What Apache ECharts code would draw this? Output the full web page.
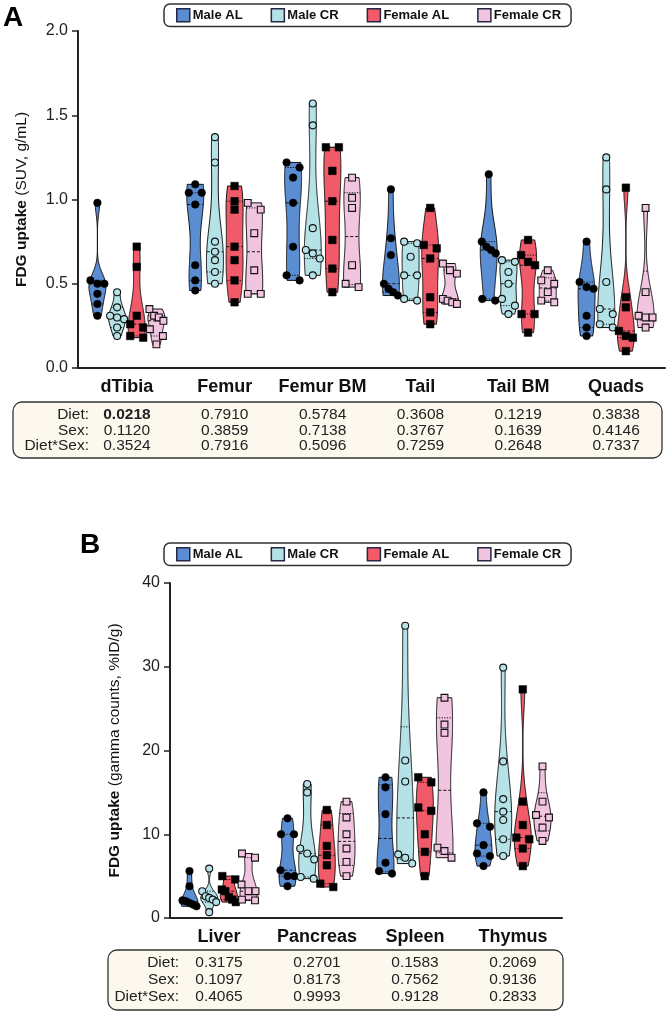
<!DOCTYPE html>
<html>
<head>
<meta charset="utf-8">
<script src="https://cdn.jsdelivr.net/npm/echarts@6/dist/echarts.min.js"></script>
<style>
  html, body { margin: 0; padding: 0; background: #fff; }
  #chart { width: 666px; height: 1014px; }
</style>
</head>
<body>
<div id="chart"></div>
<script>
// groups and colours
const groupNames = ['Male AL', 'Male CR', 'Female AL', 'Female CR'];
const groupColors = ['#5b8dd3', '#b4e2e7', '#f15b69', '#f1c4e0'];

// panel A - bone sites, SUV g/mL
const boneCats = ['dTibia', 'Femur', 'Femur BM', 'Tail', 'Tail BM', 'Quads'];
const boneMaleAL = [
  [0.98, 0.52, 0.50, 0.50, 0.44, 0.38, 0.31],
  [1.09, 1.04, 1.04, 0.97, 0.61, 0.52, 0.46],
  [1.22, 1.19, 1.13, 0.98, 0.72, 0.55, 0.52],
  [1.06, 0.77, 0.67, 0.50, 0.47, 0.45, 0.43],
  [1.15, 0.75, 0.72, 0.70, 0.68, 0.41, 0.40],
  [0.75, 0.51, 0.48, 0.47, 0.31, 0.24, 0.19]
];
const boneMaleCR = [
  [0.45, 0.36, 0.31, 0.30, 0.29, 0.24, 0.19],
  [1.37, 1.22, 0.75, 0.69, 0.64, 0.57, 0.50],
  [1.57, 1.44, 0.83, 0.70, 0.68, 0.65, 0.55],
  [0.75, 0.74, 0.66, 0.55, 0.55, 0.41, 0.40],
  [0.64, 0.63, 0.57, 0.50, 0.41, 0.37, 0.32],
  [1.25, 1.06, 0.51, 0.35, 0.32, 0.26, 0.24]
];
const boneFemaleAL = [
  [0.72, 0.60, 0.31, 0.26, 0.24, 0.19, 0.18],
  [1.08, 0.99, 0.94, 0.72, 0.64, 0.52, 0.39],
  [1.31, 1.31, 1.17, 0.99, 0.76, 0.59, 0.45],
  [0.95, 0.73, 0.71, 0.65, 0.42, 0.33, 0.26],
  [0.76, 0.67, 0.63, 0.61, 0.32, 0.32, 0.21],
  [1.07, 0.42, 0.36, 0.22, 0.19, 0.18, 0.10]
];
const boneFemaleCR = [
  [0.35, 0.31, 0.30, 0.28, 0.23, 0.19, 0.14],
  [0.98, 0.94, 0.80, 0.58, 0.44, 0.44],
  [1.13, 1.01, 0.95, 0.61, 0.50, 0.48],
  [0.62, 0.58, 0.56, 0.41, 0.40, 0.39, 0.38],
  [0.58, 0.52, 0.50, 0.45, 0.40, 0.39],
  [0.95, 0.45, 0.31, 0.30, 0.30, 0.24]
];
const boneDietP = ['0.0218', '0.7910', '0.5784', '0.3608', '0.1219', '0.3838'];
const boneSexP = ['0.1120', '0.3859', '0.7138', '0.3767', '0.1639', '0.4146'];
const boneDietSexP = ['0.3524', '0.7916', '0.5096', '0.7259', '0.2648', '0.7337'];

// panel B - organs, gamma counts %ID/g
const organCats = ['Liver', 'Pancreas', 'Spleen', 'Thymus'];
const organMaleAL = [
  [5.6, 3.8, 2.1, 2.0, 1.8, 1.6, 1.4],
  [11.9, 10.0, 10.0, 5.7, 5.0, 5.0, 3.8],
  [16.8, 15.6, 12.4, 6.6, 5.6, 5.3],
  [15.0, 11.3, 10.9, 8.7, 7.7, 7.4, 6.2]
];
const organMaleCR = [
  [5.9, 3.2, 2.6, 2.4, 2.2, 1.9, 0.7],
  [16.0, 15.0, 8.3, 7.7, 7.0, 4.9, 4.7],
  [34.9, 18.8, 16.3, 7.6, 7.2, 6.5],
  [29.9, 18.7, 14.2, 12.7, 11.7, 9.4, 7.4]
];
const organFemaleAL = [
  [5.0, 4.6, 3.4, 3.2, 2.5, 2.2, 1.9],
  [12.9, 11.1, 8.6, 7.5, 6.3, 4.1, 3.7],
  [16.8, 16.2, 13.2, 12.8, 10.0, 7.9, 5.0],
  [27.3, 13.9, 11.1, 9.6, 9.4, 8.3, 6.2]
];
const organFemaleCR = [
  [7.7, 7.2, 4.0, 3.2, 3.2, 2.2, 2.1],
  [13.9, 12.0, 10.0, 8.3, 6.7, 5.0],
  [26.3, 23.1, 22.1, 8.4, 8.0, 7.2],
  [18.1, 13.9, 12.3, 12.0, 10.8, 9.2]
];
const organDietP = ['0.3175', '0.2701', '0.1583', '0.2069'];
const organSexP = ['0.1097', '0.8173', '0.7562', '0.9136'];
const organDietSexP = ['0.4065', '0.9993', '0.9128', '0.2833'];

const FONT = "'Liberation Sans', Arial, Helvetica, sans-serif";
const OFFSETS = [-29.5, -9.8, 9.8, 29.5];
const HALF_W = 8.5;

function quantile(s, p) {
  const n = s.length;
  const pos = (n + 1) * p - 1;
  if (pos <= 0) return s[0];
  if (pos >= n - 1) return s[n - 1];
  const lo = Math.floor(pos);
  return s[lo] + (s[lo + 1] - s[lo]) * (pos - lo);
}

function makeViolin(groupVals, gi) {
  return function (params, api) {
    const ci = api.value(0);
    const s = groupVals[ci].slice().sort((a, b) => a - b);
    const n = s.length;
    const cx = api.coord([ci, 0])[0] + OFFSETS[gi];
    const py = v => api.coord([ci, v])[1];

    const mean = s.reduce((a, b) => a + b, 0) / n;
    const sd = Math.sqrt(s.reduce((a, b) => a + (b - mean) * (b - mean), 0) / (n - 1));
    const q1 = quantile(s, 0.25), med = quantile(s, 0.5), q3 = quantile(s, 0.75);
    const range = s[n - 1] - s[0];
    let h = 0.9 * Math.min(sd, (q3 - q1) / 1.34 || sd) * Math.pow(n, -0.2);
    h = Math.max(h, range * 0.07, 1e-6);
    const dens = v => s.reduce((a, x) => a + Math.exp(-0.5 * ((v - x) / h) * ((v - x) / h)), 0);

    const steps = Math.max(4, Math.ceil(py(s[0]) - py(s[n - 1])));
    const samp = [];
    let maxD = 0;
    for (let i = 0; i <= steps; i++) {
      const v = s[0] + range * i / steps;
      const d = dens(v);
      maxD = Math.max(maxD, d);
      samp.push([v, d]);
    }
    const w = d => HALF_W * d / maxD;
    const right = samp.map(p => [cx + w(p[1]), py(p[0])]);
    const left = samp.map(p => [cx - w(p[1]), py(p[0])]).reverse();

    const children = [{
      type: 'polygon',
      shape: { points: right.concat(left) },
      style: { fill: groupColors[gi], stroke: '#111', lineWidth: 1 }
    }];

    [[q1, [1.2, 1.4]], [q3, [1.2, 1.4]], [med, [3, 2]]].forEach(function (q) {
      const hw = w(dens(q[0]));
      const y = py(q[0]);
      children.push({
        type: 'line',
        shape: { x1: cx - hw, y1: y, x2: cx + hw, y2: y },
        style: { stroke: '#111', lineWidth: 1, lineDash: q[1] }
      });
    });

    // spread points that sit at the same height
    const desc = s.slice().reverse();
    const clusters = [];
    desc.forEach(function (v) {
      const y = py(v);
      const last = clusters[clusters.length - 1];
      if (last && y - last.lastY < 7) { last.items.push(y); last.lastY = y; }
      else clusters.push({ items: [y], lastY: y });
    });
    clusters.forEach(function (c) {
      const k = c.items.length;
      const sp = k > 1 ? Math.min(13, 14 / (k - 1)) : 0;
      c.items.forEach(function (y, j) {
        const x = cx + (j - (k - 1) / 2) * sp;
        const filled = gi === 0 || gi === 2;
        const style = filled
          ? { fill: '#000', stroke: '#000', lineWidth: 0.5 }
          : { fill: groupColors[gi], stroke: '#111', lineWidth: 1.1 };
        if (gi < 2) {
          children.push({ type: 'circle', shape: { cx: x, cy: y, r: filled ? 3.8 : 3.5 }, style: style });
        } else {
          const r = filled ? 3.8 : 3.4;
          children.push({ type: 'rect', shape: { x: x - r, y: y - r, width: 2 * r, height: 2 * r }, style: style });
        }
      });
    });

    return { type: 'group', children: children };
  };
}

const boneGroups = [boneMaleAL, boneMaleCR, boneFemaleAL, boneFemaleCR];
const organGroups = [organMaleAL, organMaleCR, organFemaleAL, organFemaleCR];

const series = [];
[boneGroups, organGroups].forEach(function (groups, p) {
  groups.forEach(function (vals, gi) {
    series.push({
      type: 'custom',
      name: groupNames[gi],
      xAxisIndex: p,
      yAxisIndex: p,
      itemStyle: { color: groupColors[gi] },
      encode: { x: 0, y: 1 },
      data: vals.map((v, i) => [i, Math.max.apply(null, v)]),
      renderItem: makeViolin(vals, gi),
      silent: true
    });
  });
});

function legendAt(top) {
  return {
    data: groupNames,
    left: 164,
    top: top,
    icon: 'rect',
    itemWidth: 13,
    itemHeight: 13,
    itemGap: 28,
    padding: [4, 10, 4, 12],
    borderColor: '#333',
    borderWidth: 1.5,
    borderRadius: 6,
    selectedMode: false,
    itemStyle: { borderColor: '#262646', borderWidth: 1.5 },
    textStyle: { fontFamily: FONT, fontWeight: 'bold', fontSize: 13, color: '#111', padding: [0, 0, 0, -2] }
  };
}

function xAxisFor(grid, cats) {
  return {
    type: 'category',
    gridIndex: grid,
    data: cats,
    axisLine: { lineStyle: { color: '#222', width: 2 } },
    axisTick: { alignWithLabel: true, length: 6, lineStyle: { color: '#222', width: 1.5 } },
    axisLabel: { interval: 0, fontFamily: FONT, fontWeight: 'bold', fontSize: 18, color: '#111', margin: 10 }
  };
}

function yAxisFor(grid, max, interval, name, digits, gap) {
  return {
    type: 'value',
    gridIndex: grid,
    min: 0,
    max: max,
    interval: interval,
    name: name,
    nameLocation: 'middle',
    nameRotate: 90,
    nameGap: gap,
    nameTextStyle: {
      fontFamily: FONT, fontSize: 15.5, color: '#111',
      rich: { b: { fontFamily: FONT, fontSize: 15.5, fontWeight: 'bold', color: '#111' } }
    },
    axisLine: { show: true, lineStyle: { color: '#222', width: 2 } },
    axisTick: { show: true, length: 6, lineStyle: { color: '#222', width: 1.5 } },
    splitLine: { show: false },
    axisLabel: {
      fontFamily: FONT, fontSize: 16, color: '#222', margin: 10,
      formatter: v => v.toFixed(digits)
    }
  };
}

const chart = echarts.init(document.getElementById('chart'), null, { renderer: 'canvas' });
chart.setOption({
  animation: false,
  textStyle: { fontFamily: FONT },
  legend: [legendAt(4), legendAt(543)],
  grid: [
    { left: 78, top: 31, width: 587, height: 337 },
    { left: 170, top: 583, width: 392, height: 335 }
  ],
  xAxis: [xAxisFor(0, boneCats), xAxisFor(1, organCats)],
  yAxis: [
    yAxisFor(0, 2, 0.5, '{b|FDG uptake} (SUV, g/mL)', 1, 48),
    yAxisFor(1, 40, 10, '{b|FDG uptake} (gamma counts, %ID/g)', 0, 47)
  ],
  series: series
});

// p-value tables under each panel
function table(xAxisIndex, cats, rows, box, labelX, rowY) {
  const els = [{
    type: 'rect',
    shape: { x: box[0], y: box[1], width: box[2], height: box[3], r: 9 },
    style: { fill: '#fdf8ee', stroke: '#333', lineWidth: 1.3 },
    z: 0
  }];
  const labels = ['Diet:', 'Sex:', 'Diet*Sex:'];
  rows.forEach(function (vals, r) {
    els.push({
      type: 'text', x: labelX, y: rowY[r], z: 1,
      style: { text: labels[r], fontFamily: FONT, fontSize: 15.5, fill: '#222', align: 'right', verticalAlign: 'middle' }
    });
    vals.forEach(function (t, i) {
      const x = chart.convertToPixel({ xAxisIndex: xAxisIndex }, cats[i]);
      const bold = xAxisIndex === 0 && r === 0 && i === 0;
      els.push({
        type: 'text', x: x, y: rowY[r], z: 1,
        style: { text: t, fontFamily: FONT, fontSize: 15.5, fontWeight: bold ? 'bold' : 'normal', fill: '#222', align: 'center', verticalAlign: 'middle' }
      });
    });
  });
  return els;
}

const graphics = [
  { type: 'text', x: 3, y: 4, style: { text: 'A', fontFamily: FONT, fontSize: 28, fontWeight: 'bold', fill: '#000' } },
  { type: 'text', x: 80, y: 531, style: { text: 'B', fontFamily: FONT, fontSize: 28, fontWeight: 'bold', fill: '#000' } }
].concat(
  table(0, boneCats, [boneDietP, boneSexP, boneDietSexP], [13, 402, 649, 56], 89, [415, 431, 446]),
  table(1, organCats, [organDietP, organSexP, organDietSexP], [108, 950, 455, 60], 179, [963, 980, 997])
);
chart.setOption({ graphic: graphics });
</script>
</body>
</html>
